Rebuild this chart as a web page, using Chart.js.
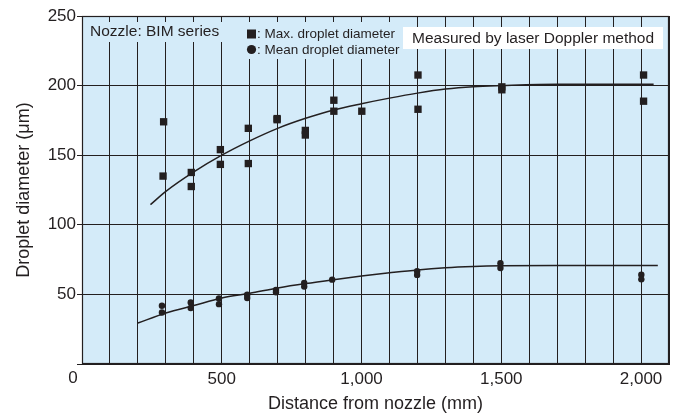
<!DOCTYPE html>
<html>
<head>
<meta charset="utf-8">
<script src="https://cdn.jsdelivr.net/npm/chart.js@4.4.1/dist/chart.umd.min.js"></script>
<style>
  html, body { margin: 0; padding: 0; background: #fff; }
  #wrap { width: 676px; height: 417px; position: relative; }
</style>
</head>
<body>
<div id="wrap"><canvas id="chartMy"></canvas></div>
<script>
// values
var maxDist = [292, 290, 391, 391, 495, 495, 595, 595, 698, 698, 799, 799, 901, 901, 1001, 1202, 1202, 1502, 1502, 2009, 2009];
var maxDia  = [174, 135, 137.6, 127.5, 154, 143.4, 169.3, 144, 176.3, 175.5, 167.8, 164.5, 189.5, 181.6, 181.6, 207.6, 183, 199.1, 197, 207.6, 188.8];

var meanDist = [286, 286, 389, 389, 490, 490, 591, 591, 694, 694, 795, 795, 895, 1199, 1199, 1497, 1497, 2001, 2001];
var meanDia  = [41.8, 37, 44.2, 40.2, 47.1, 43, 49.8, 47.4, 53.2, 51.5, 58.2, 55.6, 60.6, 66.6, 64, 72.4, 69, 64.2, 60.8];

var maxCurveDist = [245, 300, 400, 500, 600, 700, 800, 900, 1000, 1100, 1200, 1300, 1400, 1500, 1700, 2045];
var maxCurveDia  = [114.5, 124, 138, 150, 160.3, 169.3, 176.5, 182.5, 187, 191, 194.6, 197.5, 199.2, 200, 201, 201];

var meanCurveDist = [200, 300, 400, 500, 600, 700, 800, 900, 1000, 1100, 1200, 1300, 1400, 1500, 1700, 2060];
var meanCurveDia  = [29.4, 36.6, 42, 47.4, 50.8, 54.6, 57.8, 60.6, 63.2, 65.5, 67.6, 69.1, 70, 70.5, 70.8, 70.8];

var xLabels = [500, 1000, 1500, 2000];
var yLabels = [50, 100, 150, 200, 250];

var ink = '#231f20';
var plotBg = '#d4ebf9';
var fam = '"Liberation Sans", Arial, Helvetica, sans-serif';

var toPoints = function (xs, ys) {
     return xs.map(function (x, i) { return { x: x, y: ys[i] }; });
}

var decorPlugin = {
     id: 'decor',
     beforeDraw: function (chart) {
          var a = chart.chartArea, ctx = chart.ctx;
          ctx.save();
          ctx.fillStyle = plotBg;
          ctx.fillRect(a.left, a.top, a.right - a.left, a.bottom - a.top);
          ctx.restore();
     },
     afterDraw: function (chart) {
          var a = chart.chartArea, ctx = chart.ctx;
          ctx.save();
          // note boxes
          ctx.fillStyle = plotBg;
          ctx.fillRect(a.left + 1, 22, 148, 20);
          ctx.fillRect(230, 22, 170, 37);
          ctx.fillStyle = '#ffffff';
          ctx.fillRect(403, 27, 260, 22);

          ctx.fillStyle = ink;
          ctx.textBaseline = 'middle';
          ctx.textAlign = 'left';
          ctx.font = '15.5px ' + fam;
          ctx.fillText('Nozzle: BIM series', 90, 32);
          ctx.fillText('Measured by laser Doppler method', 412, 38.5);

          ctx.font = '13.5px ' + fam;
          ctx.fillRect(247, 29.5, 9, 9);
          ctx.beginPath();
          ctx.arc(251.5, 49.5, 4.6, 0, Math.PI * 2);
          ctx.fill();
          ctx.fillText(': Max. droplet diameter', 257, 34.5);
          ctx.fillText(': Mean droplet diameter', 257, 50);

          // origin label
          ctx.font = '17px ' + fam;
          ctx.textAlign = 'center';
          ctx.fillText('0', chart.scales.x.getPixelForValue(0) - 9, 378);

          // frame
          ctx.strokeStyle = ink;
          ctx.lineWidth = 1.2;
          ctx.strokeRect(a.left + 0.5, a.top + 0.5, a.right - a.left - 1, a.bottom - a.top - 1);
          ctx.restore();
     }
};

var config = {
     type: 'scatter',
     data: {
          datasets: [{
               label: 'Max. droplet diameter',
               data: toPoints(maxDist, maxDia),
               pointStyle: 'rect',
               pointRadius: 5.2,
               backgroundColor: ink,
               borderColor: ink,
               borderWidth: 0
          }, {
               label: 'Mean droplet diameter',
               data: toPoints(meanDist, meanDia),
               pointStyle: 'circle',
               pointRadius: 3.2,
               backgroundColor: ink,
               borderColor: ink,
               borderWidth: 0
          }, {
               label: 'Max. fit',
               data: toPoints(maxCurveDist, maxCurveDia),
               showLine: true,
               pointRadius: 0,
               borderColor: ink,
               borderWidth: 1.5,
               cubicInterpolationMode: 'monotone',
               fill: false
          }, {
               label: 'Mean fit',
               data: toPoints(meanCurveDist, meanCurveDia),
               showLine: true,
               pointRadius: 0,
               borderColor: ink,
               borderWidth: 1.5,
               cubicInterpolationMode: 'monotone',
               fill: false
          }]
     },
     options: {
          responsive: true,
          maintainAspectRatio: false,
          animation: false,
          layout: { padding: { top: 16, right: 7, left: 0, bottom: 0 } },
          plugins: {
               legend: { display: false },
               tooltip: { enabled: false }
          },
          scales: {
               x: {
                    type: 'linear',
                    min: 0,
                    max: 2100,
                    afterFit: function (s) { s.height = 53; },
                    ticks: {
                         stepSize: 100,
                         autoSkip: false,
                         maxRotation: 0,
                         padding: 5,
                         color: ink,
                         font: { family: fam, size: 17 },
                         callback: function (v) {
                              return xLabels.indexOf(v) >= 0 ? v.toLocaleString('en-US') : '';
                         }
                    },
                    grid: { color: ink, lineWidth: 1, drawTicks: false },
                    border: { color: ink, width: 1 },
                    title: {
                         display: true,
                         text: 'Distance from nozzle (mm)',
                         color: ink,
                         font: { family: fam, size: 18 },
                         padding: { top: 0, bottom: 2 }
                    }
               },
               y: {
                    min: 0,
                    max: 250,
                    afterFit: function (s) { s.width = 82; },
                    ticks: {
                         stepSize: 50,
                         padding: 1,
                         color: ink,
                         font: { family: fam, size: 17 },
                         callback: function (v) {
                              return yLabels.indexOf(v) >= 0 ? String(v) : '';
                         }
                    },
                    grid: { color: ink, lineWidth: 1, tickLength: 5 },
                    border: { color: ink, width: 1 },
                    title: {
                         display: true,
                         text: 'Droplet diameter (\u03bcm)',
                         color: ink,
                         font: { family: fam, size: 18 },
                         padding: { top: 13, bottom: 0 }
                    }
               }
          }
     },
     plugins: [decorPlugin]
};

window.onload = function () {
     var ctx = document.getElementById('chartMy').getContext('2d');
     window.myScatter = new Chart(ctx, config);
};
</script>
</body>
</html>
